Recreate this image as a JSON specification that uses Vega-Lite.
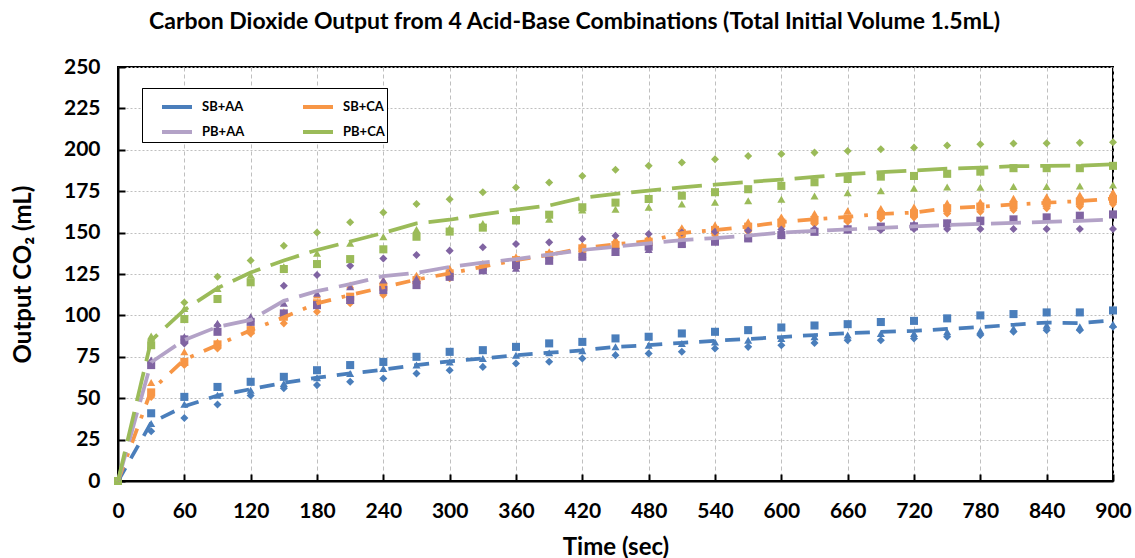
{
  "$schema": "https://vega.github.io/schema/vega-lite/v6.json",
  "autosize": {"type": "none"},
  "padding": {"left": 118, "top": 67, "right": 22, "bottom": 77},
  "width": 995,
  "height": 414,
  "background": "white",
  "title": {
    "text": "Carbon Dioxide Output from 4 Acid-Base Combinations (Total Initial Volume 1.5mL)",
    "font": "Lato", "fontSize": 23, "fontWeight": "bold", "color": "black",
    "anchor": "middle", "dx": -41, "offset": 22
  },
  "data": {"values": [
    {"combo":"SB+AA","time":0,"trial1":0,"trial2":0,"trial3":0},
    {"combo":"SB+AA","time":30,"trial1":40.9,"trial2":34.7,"trial3":30},
    {"combo":"SB+AA","time":60,"trial1":50.8,"trial2":46.4,"trial3":38.1},
    {"combo":"SB+AA","time":90,"trial1":56.8,"trial2":51.8,"trial3":46.2},
    {"combo":"SB+AA","time":120,"trial1":59.9,"trial2":54.8,"trial3":51.6},
    {"combo":"SB+AA","time":150,"trial1":62.9,"trial2":58.9,"trial3":56},
    {"combo":"SB+AA","time":180,"trial1":66.9,"trial2":62.3,"trial3":57.9},
    {"combo":"SB+AA","time":210,"trial1":70,"trial2":64.9,"trial3":59.9},
    {"combo":"SB+AA","time":240,"trial1":71.9,"trial2":67.9,"trial3":61.9},
    {"combo":"SB+AA","time":270,"trial1":75,"trial2":70,"trial3":64.9},
    {"combo":"SB+AA","time":300,"trial1":78,"trial2":71.9,"trial3":66.9},
    {"combo":"SB+AA","time":330,"trial1":79,"trial2":74,"trial3":68.9},
    {"combo":"SB+AA","time":360,"trial1":81,"trial2":76,"trial3":71},
    {"combo":"SB+AA","time":390,"trial1":83.1,"trial2":77.4,"trial3":72},
    {"combo":"SB+AA","time":420,"trial1":84,"trial2":78.6,"trial3":74},
    {"combo":"SB+AA","time":450,"trial1":86.1,"trial2":81,"trial3":76},
    {"combo":"SB+AA","time":480,"trial1":87.1,"trial2":82,"trial3":77},
    {"combo":"SB+AA","time":510,"trial1":89.1,"trial2":83.1,"trial3":78},
    {"combo":"SB+AA","time":540,"trial1":90.1,"trial2":84,"trial3":80},
    {"combo":"SB+AA","time":570,"trial1":91.1,"trial2":85,"trial3":81},
    {"combo":"SB+AA","time":600,"trial1":92.7,"trial2":86.1,"trial3":82},
    {"combo":"SB+AA","time":630,"trial1":93.9,"trial2":87.1,"trial3":83.4},
    {"combo":"SB+AA","time":660,"trial1":94.7,"trial2":88.1,"trial3":85},
    {"combo":"SB+AA","time":690,"trial1":96,"trial2":89.1,"trial3":85},
    {"combo":"SB+AA","time":720,"trial1":96.7,"trial2":89.1,"trial3":86.1},
    {"combo":"SB+AA","time":750,"trial1":98.2,"trial2":90.1,"trial3":87.1},
    {"combo":"SB+AA","time":780,"trial1":100,"trial2":90.7,"trial3":88.1},
    {"combo":"SB+AA","time":810,"trial1":100.8,"trial2":92.1,"trial3":90.1},
    {"combo":"SB+AA","time":840,"trial1":101.8,"trial2":94.1,"trial3":91.1},
    {"combo":"SB+AA","time":870,"trial1":101.8,"trial2":93.1,"trial3":91.1},
    {"combo":"SB+AA","time":900,"trial1":103,"trial2":94.7,"trial3":93.1},
    {"combo":"SB+CA","time":0,"trial1":0,"trial2":0,"trial3":0},
    {"combo":"SB+CA","time":30,"trial1":53.5,"trial2":59.5,"trial3":50.8},
    {"combo":"SB+CA","time":60,"trial1":71.9,"trial2":78,"trial3":70},
    {"combo":"SB+CA","time":90,"trial1":82.5,"trial2":84,"trial3":80},
    {"combo":"SB+CA","time":120,"trial1":91.1,"trial2":93,"trial3":89.1},
    {"combo":"SB+CA","time":150,"trial1":99.2,"trial2":102.2,"trial3":95.2},
    {"combo":"SB+CA","time":180,"trial1":107.3,"trial2":112.3,"trial3":102.2},
    {"combo":"SB+CA","time":210,"trial1":111.3,"trial2":118.3,"trial3":107.3},
    {"combo":"SB+CA","time":240,"trial1":117.3,"trial2":121.3,"trial3":112.3},
    {"combo":"SB+CA","time":270,"trial1":121.3,"trial2":124.3,"trial3":119.3},
    {"combo":"SB+CA","time":300,"trial1":125.4,"trial2":128.4,"trial3":122.4},
    {"combo":"SB+CA","time":330,"trial1":129.4,"trial2":131.4,"trial3":127.4},
    {"combo":"SB+CA","time":360,"trial1":133.4,"trial2":135.4,"trial3":131.4},
    {"combo":"SB+CA","time":390,"trial1":136.5,"trial2":138.5,"trial3":134.5},
    {"combo":"SB+CA","time":420,"trial1":140.5,"trial2":142.5,"trial3":138.5},
    {"combo":"SB+CA","time":450,"trial1":142.5,"trial2":146,"trial3":140.5},
    {"combo":"SB+CA","time":480,"trial1":144.5,"trial2":147.5,"trial3":142.5},
    {"combo":"SB+CA","time":510,"trial1":149.6,"trial2":153,"trial3":146.6},
    {"combo":"SB+CA","time":540,"trial1":151.6,"trial2":154.6,"trial3":148.6},
    {"combo":"SB+CA","time":570,"trial1":153.6,"trial2":156.6,"trial3":150.6},
    {"combo":"SB+CA","time":600,"trial1":156,"trial2":159.5,"trial3":153.6},
    {"combo":"SB+CA","time":630,"trial1":157.6,"trial2":161.5,"trial3":155.2},
    {"combo":"SB+CA","time":660,"trial1":158.6,"trial2":163.2,"trial3":156.6},
    {"combo":"SB+CA","time":690,"trial1":160.6,"trial2":164.5,"trial3":158.6},
    {"combo":"SB+CA","time":720,"trial1":161.6,"trial2":165.5,"trial3":159.2},
    {"combo":"SB+CA","time":750,"trial1":164.7,"trial2":167.9,"trial3":161.6},
    {"combo":"SB+CA","time":780,"trial1":165.7,"trial2":168.5,"trial3":162.6},
    {"combo":"SB+CA","time":810,"trial1":166.7,"trial2":170.7,"trial3":163.6},
    {"combo":"SB+CA","time":840,"trial1":167.7,"trial2":171.7,"trial3":164.7},
    {"combo":"SB+CA","time":870,"trial1":168.7,"trial2":172.7,"trial3":165.7},
    {"combo":"SB+CA","time":900,"trial1":170.2,"trial2":174.3,"trial3":167.2},
    {"combo":"PB+AA","time":0,"trial1":0,"trial2":0,"trial3":0},
    {"combo":"PB+AA","time":30,"trial1":70,"trial2":73,"trial3":72},
    {"combo":"PB+AA","time":60,"trial1":85.5,"trial2":87.1,"trial3":83},
    {"combo":"PB+AA","time":90,"trial1":90.1,"trial2":95.2,"trial3":94},
    {"combo":"PB+AA","time":120,"trial1":96.1,"trial2":99.2,"trial3":96.5},
    {"combo":"PB+AA","time":150,"trial1":101.2,"trial2":107.3,"trial3":117.9},
    {"combo":"PB+AA","time":180,"trial1":106.2,"trial2":113.3,"trial3":124.4},
    {"combo":"PB+AA","time":210,"trial1":109.3,"trial2":117.3,"trial3":130},
    {"combo":"PB+AA","time":240,"trial1":115.3,"trial2":121.3,"trial3":134.4},
    {"combo":"PB+AA","time":270,"trial1":118.3,"trial2":122.3,"trial3":136.5},
    {"combo":"PB+AA","time":300,"trial1":123.3,"trial2":125.5,"trial3":139.1},
    {"combo":"PB+AA","time":330,"trial1":127.4,"trial2":127,"trial3":141.1},
    {"combo":"PB+AA","time":360,"trial1":130.4,"trial2":128.5,"trial3":143.1},
    {"combo":"PB+AA","time":390,"trial1":133,"trial2":133,"trial3":144.1},
    {"combo":"PB+AA","time":420,"trial1":135.4,"trial2":137,"trial3":146.1},
    {"combo":"PB+AA","time":450,"trial1":138.4,"trial2":138,"trial3":148.1},
    {"combo":"PB+AA","time":480,"trial1":141.5,"trial2":139.8,"trial3":149.2},
    {"combo":"PB+AA","time":510,"trial1":143.1,"trial2":143.4,"trial3":150},
    {"combo":"PB+AA","time":540,"trial1":144.5,"trial2":145,"trial3":150.5},
    {"combo":"PB+AA","time":570,"trial1":146.5,"trial2":147,"trial3":151.2},
    {"combo":"PB+AA","time":600,"trial1":148.5,"trial2":149.6,"trial3":151.9},
    {"combo":"PB+AA","time":630,"trial1":150.5,"trial2":150.5,"trial3":152.2},
    {"combo":"PB+AA","time":660,"trial1":152,"trial2":151.5,"trial3":152.2},
    {"combo":"PB+AA","time":690,"trial1":153.6,"trial2":153.4,"trial3":151.6},
    {"combo":"PB+AA","time":720,"trial1":153.8,"trial2":155.4,"trial3":152.2},
    {"combo":"PB+AA","time":750,"trial1":155.6,"trial2":156,"trial3":152.2},
    {"combo":"PB+AA","time":780,"trial1":157.2,"trial2":156.5,"trial3":152.2},
    {"combo":"PB+AA","time":810,"trial1":158,"trial2":157.5,"trial3":152.2},
    {"combo":"PB+AA","time":840,"trial1":159.2,"trial2":158,"trial3":152.2},
    {"combo":"PB+AA","time":870,"trial1":160.2,"trial2":159,"trial3":152.2},
    {"combo":"PB+AA","time":900,"trial1":161,"trial2":160.8,"trial3":152.2},
    {"combo":"PB+CA","time":0,"trial1":0,"trial2":0,"trial3":0},
    {"combo":"PB+CA","time":30,"trial1":82,"trial2":87.5,"trial3":85},
    {"combo":"PB+CA","time":60,"trial1":97.8,"trial2":104.2,"trial3":107.8},
    {"combo":"PB+CA","time":90,"trial1":109.9,"trial2":116.3,"trial3":123.3},
    {"combo":"PB+CA","time":120,"trial1":120,"trial2":124.4,"trial3":133.2},
    {"combo":"PB+CA","time":150,"trial1":128,"trial2":129.4,"trial3":142.1},
    {"combo":"PB+CA","time":180,"trial1":131,"trial2":137.5,"trial3":150.1},
    {"combo":"PB+CA","time":210,"trial1":134,"trial2":143.5,"trial3":156.3},
    {"combo":"PB+CA","time":240,"trial1":139.9,"trial2":147.5,"trial3":162.1},
    {"combo":"PB+CA","time":270,"trial1":147.5,"trial2":151.9,"trial3":167.3},
    {"combo":"PB+CA","time":300,"trial1":150.6,"trial2":152.6,"trial3":170.1},
    {"combo":"PB+CA","time":330,"trial1":153,"trial2":155.5,"trial3":174.4},
    {"combo":"PB+CA","time":360,"trial1":157.6,"trial2":157,"trial3":177.2},
    {"combo":"PB+CA","time":390,"trial1":160.8,"trial2":158,"trial3":180.2},
    {"combo":"PB+CA","time":420,"trial1":165.3,"trial2":163.7,"trial3":184.2},
    {"combo":"PB+CA","time":450,"trial1":168.1,"trial2":164.1,"trial3":188},
    {"combo":"PB+CA","time":480,"trial1":170.3,"trial2":165.3,"trial3":190.4},
    {"combo":"PB+CA","time":510,"trial1":172.3,"trial2":167.3,"trial3":192.3},
    {"combo":"PB+CA","time":540,"trial1":174.4,"trial2":168.3,"trial3":194.3},
    {"combo":"PB+CA","time":570,"trial1":176.2,"trial2":169.3,"trial3":196.3},
    {"combo":"PB+CA","time":600,"trial1":178.2,"trial2":170.2,"trial3":197.5},
    {"combo":"PB+CA","time":630,"trial1":180.4,"trial2":172.1,"trial3":198.3},
    {"combo":"PB+CA","time":660,"trial1":182.4,"trial2":174.1,"trial3":199.3},
    {"combo":"PB+CA","time":690,"trial1":183.8,"trial2":175.3,"trial3":200.3},
    {"combo":"PB+CA","time":720,"trial1":184.2,"trial2":176.8,"trial3":201.3},
    {"combo":"PB+CA","time":750,"trial1":185.5,"trial2":177.6,"trial3":202.6},
    {"combo":"PB+CA","time":780,"trial1":186.8,"trial2":177.4,"trial3":203.4},
    {"combo":"PB+CA","time":810,"trial1":188.9,"trial2":177.8,"trial3":203.8},
    {"combo":"PB+CA","time":840,"trial1":188.9,"trial2":177.8,"trial3":204},
    {"combo":"PB+CA","time":870,"trial1":188.9,"trial2":178.2,"trial3":204.2},
    {"combo":"PB+CA","time":900,"trial1":190.3,"trial2":178.8,"trial3":204.6}
  ]},
  "transform": [{"fold": ["trial1", "trial2", "trial3"], "as": ["trial", "v"]}],
  "layer": [
    {
      "mark": {"type": "point", "filled": true, "opacity": 1, "size": 65},
      "encoding": {
        "x": {"field": "time", "type": "quantitative",
              "scale": {"domain": [0, 900], "nice": false},
              "axis": {"title": "Time (sec)", "values": [0,60,120,180,240,300,360,420,480,540,600,660,720,780,840,900],
                       "gridDash": [4, 3], "labelPadding": 26, "titlePadding": 14, "labelFlush": false}},
        "y": {"field": "v", "type": "quantitative",
              "scale": {"domain": [0, 250], "nice": false},
              "axis": {"title": "Output CO₂ (mL)", "values": [0,25,50,75,100,125,150,175,200,225,250],
                       "gridDash": [2, 2], "labelPadding": 25, "titlePadding": 28}},
        "color": {"field": "combo", "type": "nominal", "legend": null,
                  "scale": {"domain": ["SB+AA", "SB+CA", "PB+AA", "PB+CA"],
                            "range": ["#4a7ebb", "#f79646", "#8064a2", "#9bbb59"]}},
        "shape": {"field": "trial", "type": "nominal", "legend": null,
                  "scale": {"domain": ["trial1", "trial2", "trial3"],
                            "range": ["square", "triangle-up", "diamond"]}}
      }
    },
    {
      "mark": {"type": "line", "strokeWidth": 3.75, "strokeCap": "butt"},
      "encoding": {
        "x": {"field": "time", "type": "quantitative",
              "axis": {"title": "Time (sec)", "values": [0,60,120,180,240,300,360,420,480,540,600,660,720,780,840,900],
                       "gridDash": [4, 3], "labelPadding": 26, "titlePadding": 14, "labelFlush": false}},
        "y": {"aggregate": "mean", "field": "v", "type": "quantitative",
              "axis": {"title": "Output CO₂ (mL)", "values": [0,25,50,75,100,125,150,175,200,225,250],
                       "gridDash": [2, 2], "labelPadding": 25, "titlePadding": 28}},
        "color": {"field": "combo", "type": "nominal", "title": null,
                  "scale": {"domain": ["SB+AA", "SB+CA", "PB+AA", "PB+CA"],
                            "range": ["#4a7ebb", "#f79646", "#b3a2c7", "#9bbb59"]}},
        "strokeDash": {"field": "combo", "type": "nominal", "title": null,
                       "scale": {"domain": ["SB+AA", "SB+CA", "PB+AA", "PB+CA"],
                                 "range": [[15, 11], [15, 11, 3.75, 11], [30, 11], [30, 11]]}}
      }
    }
  ],
  "resolve": {"scale": {"color": "independent"}},
  "config": {
    "view": {"stroke": "black", "strokeWidth": 2},
    "axis": {
      "domainColor": "black", "domainWidth": 2,
      "tickColor": "black", "tickWidth": 2, "tickSize": -7,
      "labelFont": "Lato", "labelFontWeight": "bold", "labelFontSize": 21, "labelColor": "black",
      "titleFont": "Lato", "titleFontWeight": "bold", "titleFontSize": 24, "titleColor": "black",
      "gridColor": "#bfbfbf", "gridWidth": 1
    },
    "legend": {
      "orient": "none", "legendX": 24, "legendY": 21, "direction": "horizontal", "columns": 2,
      "symbolType": "stroke", "symbolSize": 900, "symbolStrokeWidth": 4,
      "labelFont": "Lato", "labelFontWeight": "bold", "labelFontSize": 13, "labelColor": "black",
      "strokeColor": "black", "strokeWidth": 1, "fillColor": "white",
      "padding": 2, "columnPadding": 40, "rowPadding": -6, "labelOffset": 8, "symbolOffset": 16
    }
  }
}
